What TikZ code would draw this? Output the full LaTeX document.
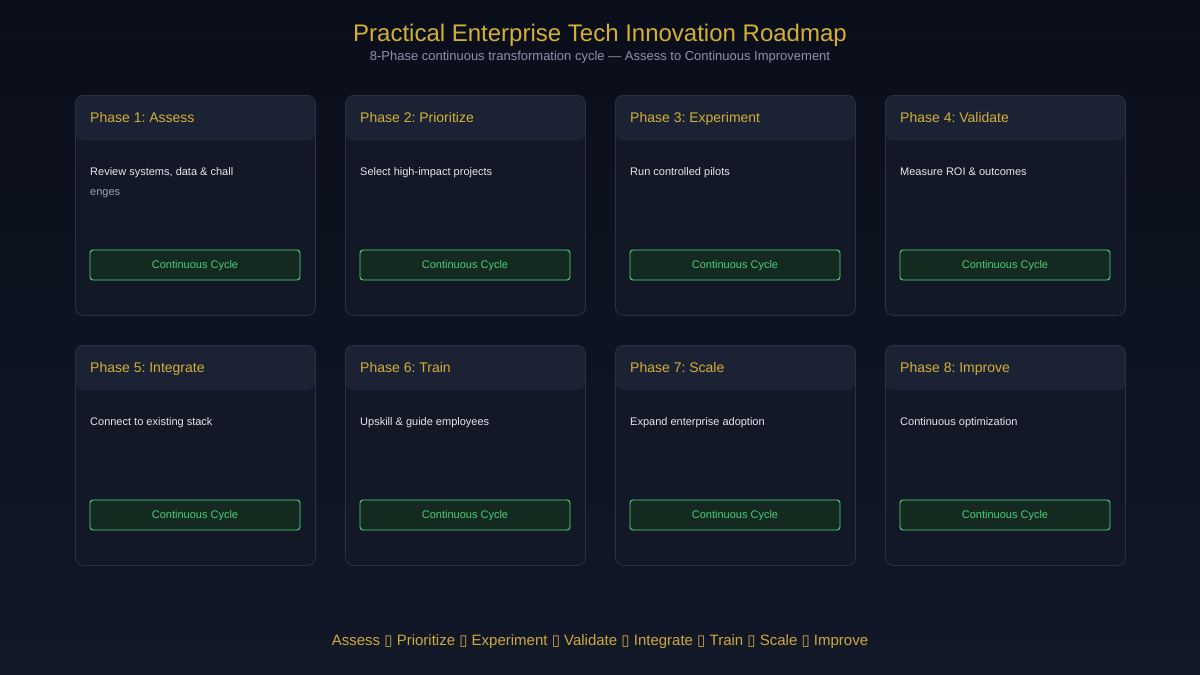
\documentclass[tikz,border=0pt]{standalone}
\usepackage{fontspec}
\setmainfont{Liberation Sans}
\newfontfamily\symfont{DejaVu Sans}
\frenchspacing
\definecolor{bgtop}{HTML}{0A0E1A}
\definecolor{bgbot}{HTML}{111827}
\definecolor{gold}{HTML}{D4AF37}
\definecolor{footgold}{HTML}{CDA93E}
\definecolor{subgray}{HTML}{8B93A7}
\definecolor{cardfill}{HTML}{121826}
\definecolor{headfill}{HTML}{1A2233}
\definecolor{cardline}{HTML}{2A3343}
\definecolor{btnfill}{HTML}{14291F}
\definecolor{btnline}{HTML}{4ADE80}
\definecolor{btntext}{HTML}{4ACF7A}
\definecolor{desctext}{HTML}{E5E7EB}
\definecolor{desctwo}{HTML}{9CA3AF}
\newcommand{\boxmark}{{\symfont ▯}}
\tikzset{
  card/.style={draw=cardline,line width=0.8pt,fill=cardfill,rounded corners=8pt,inner sep=0pt,
    minimum width=240pt,minimum height=220pt,anchor=north west,
    path picture={\fill[headfill] (path picture bounding box.north west)
      rectangle ([yshift=-45pt]path picture bounding box.north east);}},
  head/.style={anchor=base west,inner sep=0pt,text=gold,font=\fontsize{14}{16}\selectfont},
  desc/.style={anchor=base west,inner sep=0pt,align=left,text=desctext,font=\fontsize{11}{20}\selectfont},
  btn/.style={draw=btnline,line width=0.9pt,fill=btnfill,rounded corners=3pt,minimum width=210pt,
    minimum height=30pt,inner sep=0pt,text height=8pt,text depth=2pt,text=btntext,
    font=\fontsize{11}{13}\selectfont}
}
\begin{document}
\begin{tikzpicture}[x=1pt,y=-1pt]
  \shade[top color=bgtop,bottom color=bgbot] (0,0) rectangle (1200,675);
  \useasboundingbox (0,0) rectangle (1200,675);
  % title
  \node[anchor=base,text=gold,font=\fontsize{24}{28}\selectfont] (title) at (600,41) {Practical Enterprise Tech Innovation Roadmap};
  \node[anchor=base,text=subgray,font=\fontsize{13}{15}\selectfont] (subtitle) at (600,60) {8-Phase continuous transformation cycle --- Assess to Continuous Improvement};
  % cards
  \node[card] (card1) at (75,95) {};
  \node[card] (card2) at (345,95) {};
  \node[card] (card3) at (615,95) {};
  \node[card] (card4) at (885,95) {};
  \node[card] (card5) at (75,345) {};
  \node[card] (card6) at (345,345) {};
  \node[card] (card7) at (615,345) {};
  \node[card] (card8) at (885,345) {};
  % headers
  \node[head] (head1) at (90,122) {Phase 1: Assess};
  \node[head] (head2) at (360,122) {Phase 2: Prioritize};
  \node[head] (head3) at (630,122) {Phase 3: Experiment};
  \node[head] (head4) at (900,122) {Phase 4: Validate};
  \node[head] (head5) at (90,372) {Phase 5: Integrate};
  \node[head] (head6) at (360,372) {Phase 6: Train};
  \node[head] (head7) at (630,372) {Phase 7: Scale};
  \node[head] (head8) at (900,372) {Phase 8: Improve};
  % descriptions (two-line one sits on its last line)
  \node[desc] (desc1) at (90,195) {Review systems, data \& chall\\\textcolor{desctwo}{enges}};
  \node[desc] (desc2) at (360,175) {Select high-impact projects};
  \node[desc] (desc3) at (630,175) {Run controlled pilots};
  \node[desc] (desc4) at (900,175) {Measure ROI \& outcomes};
  \node[desc] (desc5) at (90,425) {Connect to existing stack};
  \node[desc] (desc6) at (360,425) {Upskill \& guide employees};
  \node[desc] (desc7) at (630,425) {Expand enterprise adoption};
  \node[desc] (desc8) at (900,425) {Continuous optimization};
  % buttons
  \node[btn] (btn1) at (195,265) {Continuous Cycle};
  \node[btn] (btn2) at (465,265) {Continuous Cycle};
  \node[btn] (btn3) at (735,265) {Continuous Cycle};
  \node[btn] (btn4) at (1005,265) {Continuous Cycle};
  \node[btn] (btn5) at (195,515) {Continuous Cycle};
  \node[btn] (btn6) at (465,515) {Continuous Cycle};
  \node[btn] (btn7) at (735,515) {Continuous Cycle};
  \node[btn] (btn8) at (1005,515) {Continuous Cycle};
  % footer
  \node[anchor=base,text=footgold,font=\fontsize{15}{17}\selectfont] (cycle) at (600,645) {Assess \boxmark{} Prioritize \boxmark{} Experiment \boxmark{} Validate \boxmark{} Integrate \boxmark{} Train \boxmark{} Scale \boxmark{} Improve};
\end{tikzpicture}
\end{document}
